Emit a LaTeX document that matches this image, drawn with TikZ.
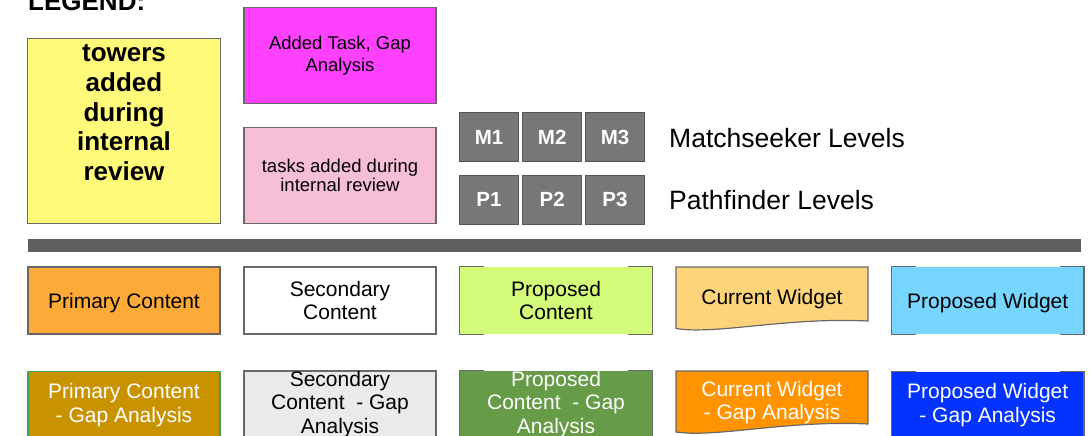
\documentclass[tikz,border=0pt]{standalone}
\usepackage{fontspec}
\setmainfont{Liberation Sans}
\definecolor{bordergray}{RGB}{104,104,104}
\definecolor{cyellow}{RGB}{255,250,122}
\definecolor{cmagenta}{RGB}{255,64,255}
\definecolor{cpink}{RGB}{247,191,214}
\definecolor{mgray}{RGB}{119,119,119}
\definecolor{mborder}{RGB}{85,85,85}
\definecolor{bargray}{RGB}{94,94,94}
\definecolor{cprimary}{RGB}{253,170,56}
\definecolor{cpropc}{RGB}{212,250,121}
\definecolor{ccurw}{RGB}{254,212,123}
\definecolor{cpropw}{RGB}{118,214,255}
\definecolor{cprimgap}{RGB}{201,147,0}
\definecolor{csecgap}{RGB}{235,235,235}
\definecolor{cpropcgap}{RGB}{102,155,72}
\definecolor{ccurwgap}{RGB}{255,147,0}
\definecolor{cpropwgap}{RGB}{4,50,255}
\definecolor{pgborder}{RGB}{60,160,90}
\newcommand\contentfont{\fontsize{21}{23.4}\selectfont}
\newcommand\bracketsof[1]{%
  \draw[border] ([xshift=24pt]#1.north west) -- (#1.north west) -- (#1.south west) -- ([xshift=24pt]#1.south west);
  \draw[border] ([xshift=-24pt]#1.north east) -- (#1.north east) -- (#1.south east) -- ([xshift=-24pt]#1.south east);}
\tikzset{
  border/.style={draw=bordergray, line width=1.2pt},
  box/.style={border, minimum width=192pt, minimum height=67pt, inner sep=0pt, align=center, font=\contentfont},
  pbox/.style={minimum width=192pt, minimum height=67pt, inner sep=0pt, align=center, font=\contentfont},
  txt/.style={inner sep=0pt, align=center, font=\contentfont},
  oneline/.style={text depth=0pt},
  mbox/.style={draw=mborder, line width=1pt, fill=mgray, minimum width=59pt, minimum height=49pt, inner sep=0pt, text=white, font=\fontsize{20.5}{23}\selectfont\bfseries},
  bigtxt/.style={inner sep=0pt, anchor=base west, font=\fontsize{26.5}{30}\selectfont},
  boldtxt/.style={inner sep=0pt, align=center, font=\fontsize{26}{29.6}\selectfont\bfseries},
}
\begin{document}
\begin{tikzpicture}[x=1pt,y=-1pt]
\useasboundingbox (0,0) rectangle (1092,436);
\clip (0,0) rectangle (1092,436);

% legend header
\node[inner sep=0pt, anchor=base west, font=\fontsize{26}{30}\selectfont\bfseries] (legend) at (28,11) {LEGEND:};

% top-left legend boxes
\node[box, fill=cyellow, minimum width=193pt, minimum height=185pt] (yel) at (124,130.7) {};
\node[boldtxt] (yeltxt) at (124,112.8) {towers\\added\\during\\internal\\review};
\node[box, fill=cmagenta, minimum height=96pt, font=\fontsize{18.5}{21.5}\selectfont] (mag) at (340,55.5) {Added Task, Gap\\Analysis};
\node[box, fill=cpink, minimum height=96pt, font=\fontsize{18.5}{19}\selectfont] (pink) at (340,175.3) {tasks added during\\internal review};

% level boxes
\node[mbox] (m1) at (489,137.2) {M1};
\node[mbox] (m2) at (552.2,137.2) {M2};
\node[mbox] (m3) at (615,137.2) {M3};
\node[mbox] (p1) at (489,199.5) {P1};
\node[mbox] (p2) at (552.2,199.5) {P2};
\node[mbox] (p3) at (615,199.5) {P3};
\node[bigtxt] (mlev) at (669,147) {Matchseeker Levels};
\node[bigtxt] (plev) at (669,209) {Pathfinder Levels};

% separator bar
\fill[bargray] (28,239.3) rectangle (1081,252.3);

% row 1
\node[box, oneline, fill=cprimary] (pc1) at (124,300.5) {Primary Content};
\node[box, fill=white] (sc1) at (340,300.5) {Secondary\\Content};
\node[pbox, fill=cpropc] (prc1) at (556,300.5) {Proposed\\Content};
\bracketsof{prc1}
\begin{scope}[shift={(676,267)}]
  \filldraw[border, fill=ccurw] (0,0) -- (192,0) -- (192,54) .. controls (110,50) and (40,68) .. (0,61.5) -- cycle;
\end{scope}
\node[txt, oneline] (cw1) at (772,297) {Current Widget};
\node[pbox, oneline, fill=cpropw] (pw1) at (987.7,300.5) {Proposed Widget};
\bracketsof{pw1}

% row 2
\node[box, draw=pgborder, fill=cprimgap, text=white] (pc2) at (124,405) {Primary Content\\- Gap Analysis};
\node[box, fill=csecgap] (sc2) at (340,404.5) {Secondary\\Content \ - Gap\\Analysis};
\node[pbox, fill=cpropcgap, text=white] (prc2) at (556,404.5) {Proposed\\Content \ - Gap\\Analysis};
\bracketsof{prc2}
\begin{scope}[shift={(676,371)}]
  \filldraw[border, fill=ccurwgap] (0,0) -- (192,0) -- (192,53) .. controls (110,49) and (40,67) .. (0,61) -- cycle;
\end{scope}
\node[txt, text=white] (cw2) at (772,402.5) {Current Widget\\- Gap Analysis};
\node[pbox, fill=cpropwgap, text=white] (pw2) at (987.7,405) {Proposed Widget\\- Gap Analysis};
\bracketsof{pw2}
\end{tikzpicture}
\end{document}
